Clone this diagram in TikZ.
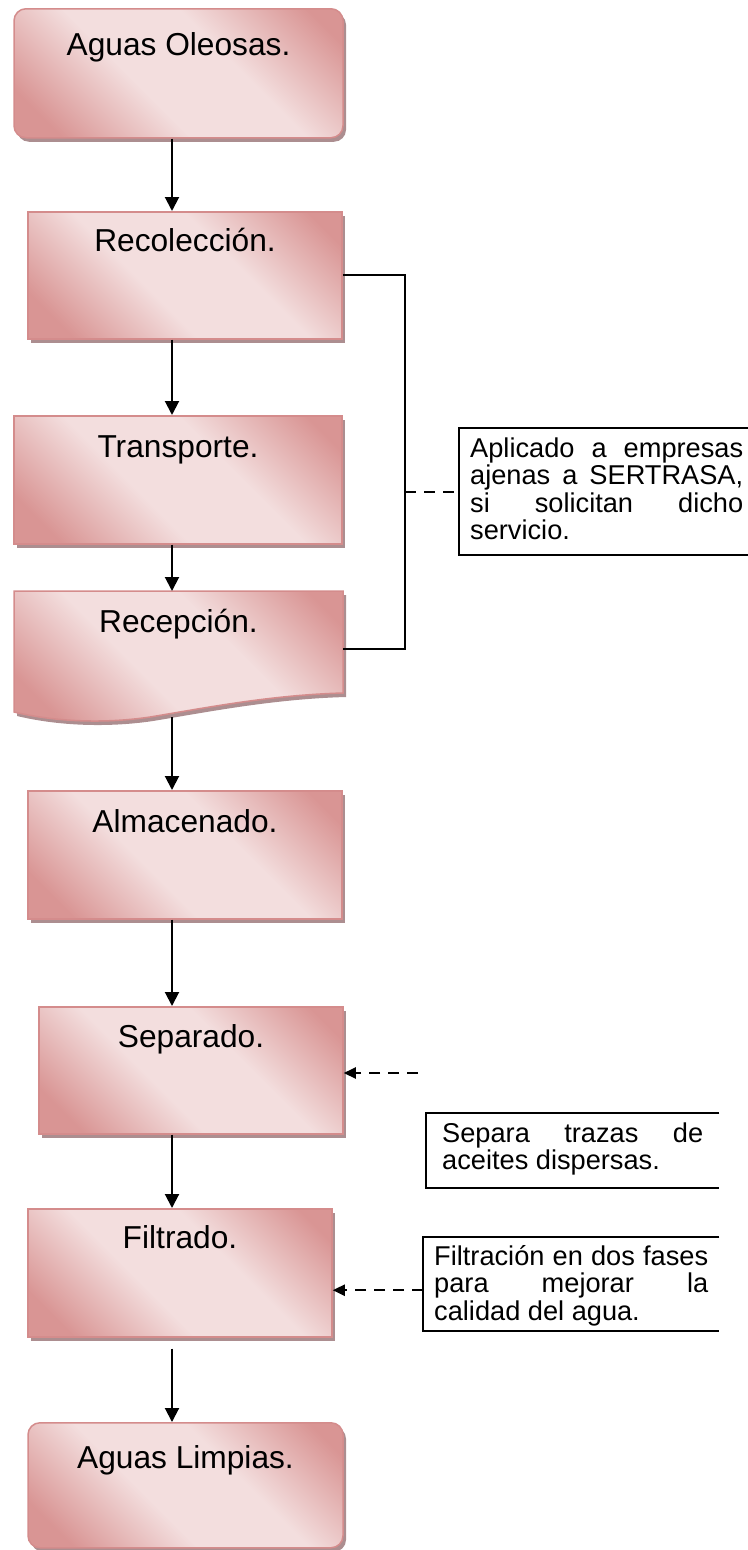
\documentclass[tikz,border=0pt]{standalone}
\usepackage{fontspec}
\setmainfont{Liberation Sans}
\usetikzlibrary{arrows.meta, shadows}

\definecolor{roseD}{RGB}{217,149,148}
\definecolor{roseL}{RGB}{243,222,222}
\definecolor{roseEdge}{RGB}{212,140,140}
\definecolor{shadowRose}{RGB}{172,142,144}

% diagonal pink wash of the process boxes
\pgfdeclarehorizontalshading{rosewash}{100bp}{color(0bp)=(roseD); color(22bp)=(roseD); color(42bp)=(roseL); color(60bp)=(roseL); color(80bp)=(roseD); color(100bp)=(roseD)}

\hyphenpenalty=10000
\tolerance=10000
\hbadness=10000

\begin{document}
\begin{tikzpicture}[
    x=1pt, y=-1pt,
    % pink box with its grey shadow
    rosefill/.style={
        draw=roseEdge, line width=1.5pt,
        shading=rosewash, shading angle=45,
        drop shadow={shadow xshift=3pt, shadow yshift=-4pt, fill=shadowRose, opacity=1}
    },
    steptext/.style={anchor=north, inner sep=0pt, font=\fontsize{31.7}{36}\selectfont},
    stepbox/.style={rosefill, steptext},
    flow/.style={-{Triangle[length=14pt,width=14pt]}, line width=2pt},
    hint/.style={-{Triangle[length=12pt,width=11pt]}, line width=2pt, dash pattern=on 11pt off 8pt},
    notebox/.style={anchor=north west, inner ysep=0pt, align=justify,
        font=\fontsize{27.2}{27.5}\selectfont}
]
\useasboundingbox (0,0) rectangle (747,1550);

% --- Process chain ---
\node[stepbox, rounded corners=12pt, minimum width=329pt, text height=47pt, text depth=82pt]
    (oleosas) at (178.5,8) {Aguas Oleosas.};
\node[stepbox, minimum width=314pt, text height=40pt, text depth=87pt]
    (recoleccion) at (185,211) {Recolección.};
\node[stepbox, minimum width=328pt, text height=42pt, text depth=86pt]
    (transporte) at (178,415) {Transporte.};

% Recepción is a document shape with a wavy bottom
\path[rosefill] (14,591) -- (343,591) -- (343,693)
    .. controls (270,695) and (205,708) .. (150,717)
    .. controls (110,723) and (60,723) .. (14,712) -- cycle;
\node[steptext, minimum width=329pt, text height=41pt, text depth=75pt]
    (recepcion) at (178.5,591) {Recepción.};

\node[stepbox, minimum width=314pt, text height=42pt, text depth=86pt]
    (almacenado) at (185,790) {Almacenado.};
\node[stepbox, minimum width=304pt, text height=41pt, text depth=86pt]
    (separado) at (191,1006) {Separado.};
\node[stepbox, minimum width=304pt, text height=40pt, text depth=88pt]
    (filtrado) at (180,1208) {Filtrado.};
\node[stepbox, rounded corners=12pt, minimum width=315pt, text height=46pt, text depth=79pt]
    (limpias) at (185.5,1422) {Aguas Limpias.};

% --- Main arrows along one vertical line ---
\coordinate (spine) at (172,0);
\draw[flow] (oleosas.south -| spine) -- (recoleccion.north -| spine);
\draw[flow] (recoleccion.south -| spine) -- (transporte.north -| spine);
\draw[flow] (transporte.south -| spine) -- (recepcion.north -| spine);
\draw[flow] ([yshift=-10pt]recepcion.south -| spine) -- (almacenado.north -| spine);
\draw[flow] (almacenado.south -| spine) -- (separado.north -| spine);
\draw[flow] (separado.south -| spine) -- (filtrado.north -| spine);
\draw[flow] ([yshift=-11pt]filtrado.south -| spine) -- (limpias.north -| spine);

% --- Notes (right border falls outside the page) ---
\node[notebox, inner xsep=11pt, text width=273pt, text height=29pt, text depth=98pt]
    (notaA) at (459,428) {Aplicado a empresas ajenas a SERTRASA, si solicitan dicho servicio.};
\node[notebox, inner xsep=16pt, text width=261pt, text height=29pt, text depth=46pt]
    (notaB) at (426,1113) {Separa trazas de aceites dispersas.};
\node[notebox, inner xsep=11pt, text width=274pt, text height=28pt, text depth=66pt]
    (notaC) at (423,1237) {Filtración en dos fases\linebreak para mejorar la\linebreak calidad del agua.};

\draw[line width=2pt] (notaA.north east) -- (notaA.north west) -- (notaA.south west) -- (notaA.south east);
\draw[line width=2pt] (notaB.north east) -- (notaB.north west) -- (notaB.south west) -- (notaB.south east);
\draw[line width=2pt] (notaC.north east) -- (notaC.north west) -- (notaC.south west) -- (notaC.south east);

% --- Bracket over Recolección ... Recepción ---
\coordinate (rail) at (405,0);
\draw[line width=2pt] (recoleccion.east) -- (recoleccion.east -| rail)
    -- (recepcion.east -| rail) -- (recepcion.east);
\draw[line width=2pt, dash pattern=on 11pt off 8pt] (notaA.west -| rail) -- (notaA.west);

% --- Dashed hints ---
\coordinate (sepcue) at (418,1073);
\draw[hint] (sepcue) -- (sepcue -| separado.east);
\draw[hint] ([yshift=-6pt]notaC.west) -- ([yshift=-6pt]notaC.west -| filtrado.east);

\end{tikzpicture}
\end{document}
